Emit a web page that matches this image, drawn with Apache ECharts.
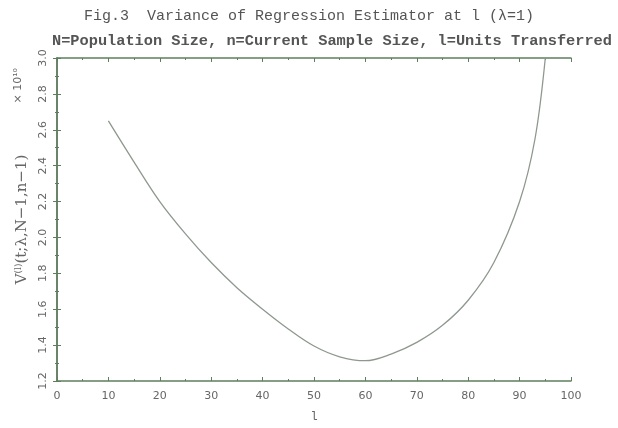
<!DOCTYPE html>
<html>
<head>
<meta charset="utf-8">
<script src="https://cdn.jsdelivr.net/npm/echarts@6/dist/echarts.min.js"></script>
<style>
  html, body { margin: 0; padding: 0; background: #fff; }
  #chart { width: 618px; height: 428px; }
</style>
</head>
<body>
<div id="chart"></div>
<script>
// units transferred l, and variance (x 10^10)
var unitsL = [10, 15, 20, 25, 30, 35, 40, 45, 50, 55, 60, 65, 70, 75, 80, 85, 90, 93, 95]
var variance = [2.65, 2.42, 2.20, 2.02, 1.86, 1.72, 1.60, 1.49, 1.395, 1.335, 1.313, 1.35, 1.415, 1.51, 1.65, 1.86, 2.20, 2.55, 3.0]
var xTicks = [0, 10, 20, 30, 40, 50, 60, 70, 80, 90, 100]
var yTicks = [1.2, 1.4, 1.6, 1.8, 2.0, 2.2, 2.4, 2.6, 2.8, 3.0]

var frameColor = '#5f7d5f'
var textColor = '#666'
var mono = '"Liberation Mono", "DejaVu Sans Mono", monospace'

var chart = echarts.init(document.getElementById('chart'))

function axisBase(min, max, interval) {
  return {
    type: 'value',
    min: min,
    max: max,
    interval: interval,
    splitLine: { show: false },
    axisLine: { show: true, lineStyle: { color: frameColor, width: 1.5 } },
    axisTick: { show: true, inside: true, length: 4, lineStyle: { color: frameColor } },
    minorTick: { show: true, splitNumber: 2, length: 2, lineStyle: { color: frameColor } }
  }
}

var xMain = axisBase(xTicks[0], xTicks[xTicks.length - 1], 10)
xMain.position = 'bottom'
xMain.axisLabel = { color: textColor, fontSize: 11, fontFamily: 'DejaVu Sans', margin: 10 }
xMain.name = 'l'
xMain.nameLocation = 'middle'
xMain.nameGap = 30
xMain.nameTextStyle = { color: textColor, fontSize: 12, fontFamily: mono }

var xTop = axisBase(xTicks[0], xTicks[xTicks.length - 1], 10)
xTop.position = 'top'
xTop.axisLabel = { show: false }

var yMain = axisBase(yTicks[0], yTicks[yTicks.length - 1], 0.2)
yMain.position = 'left'
yMain.axisLabel = {
  color: textColor, fontSize: 11, fontFamily: 'DejaVu Sans', rotate: 90, margin: 8,
  formatter: function (v) { return v.toFixed(1) }
}
yMain.name = '{a|V}{b|(l)}{a|(t;λ,N\u22121,n\u22121)}'
yMain.nameLocation = 'middle'
yMain.nameGap = 14
yMain.nameRotate = 90
yMain.nameTextStyle = {
  color: textColor,
  rich: {
    a: { fontSize: 15, fontFamily: 'DejaVu Serif', color: textColor },
    b: { fontSize: 9, fontFamily: 'DejaVu Serif', color: textColor, padding: [0, 0, 8, 0] }
  }
}

var yRight = axisBase(yTicks[0], yTicks[yTicks.length - 1], 0.2)
yRight.position = 'right'
yRight.axisLabel = { show: false }

chart.setOption({
  animation: false,
  title: [
    {
      text: 'Fig.3  Variance of Regression Estimator at l (\u03bb=1)',
      left: 'center',
      top: 4,
      textStyle: { color: '#555', fontSize: 15, fontWeight: 'normal', fontFamily: mono }
    },
    {
      text: 'N=Population Size, n=Current Sample Size, l=Units Transferred',
      left: 47,
      top: 29,
      textStyle: { color: '#555', fontSize: 15.3, fontWeight: 'bold', fontFamily: mono }
    }
  ],
  graphic: [
    {
      type: 'text',
      left: 13,
      top: 68,
      rotation: Math.PI / 2,
      style: { text: '\u00d7 10\u00b9\u2070', fill: textColor, fontSize: 11, fontFamily: 'DejaVu Sans' }
    }
  ],
  grid: { left: 57, right: 47, top: 58, bottom: 31 },
  xAxis: [xMain, xTop],
  yAxis: [yMain, yRight],
  series: [
    {
      type: 'line',
      xAxisIndex: 0,
      yAxisIndex: 0,
      data: unitsL.map(function (l, i) { return [l, variance[i]] }),
      smooth: 0.35,
      showSymbol: false,
      clip: true,
      lineStyle: { color: '#8e988e', width: 1.3 }
    }
  ]
})
</script>
</body>
</html>
